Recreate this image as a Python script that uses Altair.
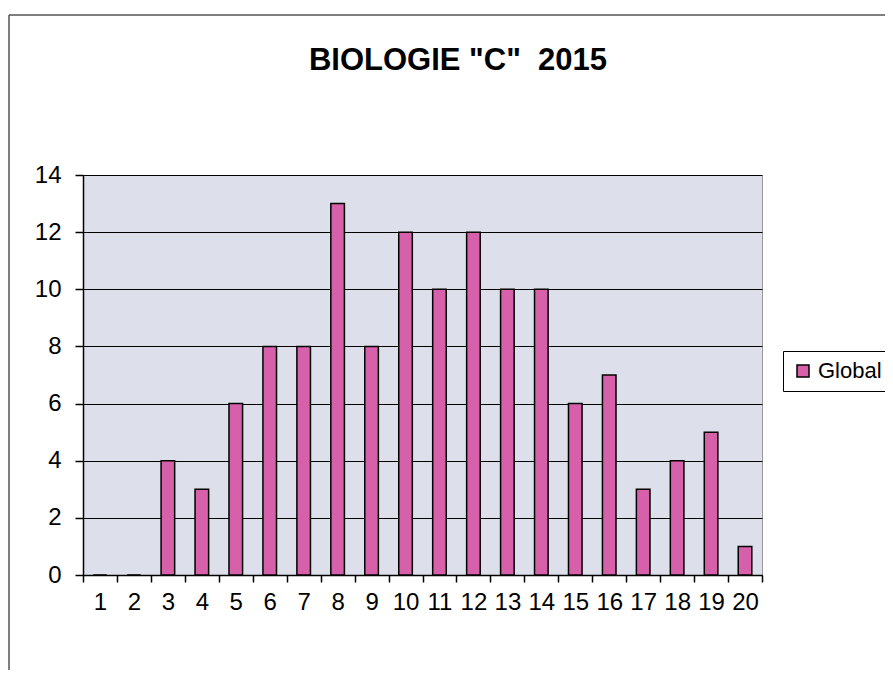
import altair as alt
import pandas as pd

title_text = ['BIOLOGIE "C"\u00a0 2015']
notes = [str(i) for i in range(1, 21)]
counts = [0, 0, 4, 3, 6, 8, 8, 13, 8, 12, 10, 12, 10, 10, 6, 7, 3, 4, 5, 1]
series = ["Global"] * 20

df = pd.DataFrame({"note": notes, "count": counts, "serie": series})

FONT = "Liberation Sans"

bars = alt.Chart(df).mark_bar(
    width=alt.RelativeBandSize(0.4),
    stroke="black",
    strokeWidth=1.5,
).encode(
    x=alt.X("note:O", sort=notes, title=None,
            scale=alt.Scale(paddingInner=0, paddingOuter=0),
            axis=alt.Axis(labelAngle=0, tickBand="extent", grid=False,
                          domainColor="black", domainWidth=1.5,
                          tickColor="black", tickWidth=1.5, tickSize=7,
                          labelFont=FONT, labelFontSize=24, labelColor="black",
                          labelPadding=8)),
    y=alt.Y("count:Q", title=None,
            scale=alt.Scale(domain=[0, 14], nice=False),
            axis=alt.Axis(values=list(range(0, 15, 2)), grid=True,
                          gridColor="black", gridWidth=1.2,
                          domainColor="black", domainWidth=1.5,
                          tickColor="black", tickWidth=1.5, tickSize=8,
                          labelFont=FONT, labelFontSize=24, labelColor="black",
                          labelPadding=14)),
    color=alt.Color("serie:N", title=None,
                    scale=alt.Scale(range=["#d660aa"]),
                    legend=alt.Legend(orient="none", legendX=700, legendY=176,
                                      symbolType="square", symbolSize=144,
                                      symbolStrokeColor="black", symbolStrokeWidth=1.5,
                                      labelFont=FONT, labelFontSize=22, labelColor="black",
                                      strokeColor="black", fillColor="white",
                                      padding=9, labelOffset=4)),
)

title_df = pd.DataFrame({"t": title_text})
title = alt.Chart(title_df).mark_text(
    font=FONT, fontSize=31, fontWeight="bold", color="black",
    align="center", baseline="alphabetic",
).encode(text="t:N", x=alt.value(375), y=alt.value(-105))

border_df = pd.DataFrame({"a": [0]})
top_line = alt.Chart(border_df).mark_rule(color="#555", strokeWidth=1.5).encode(
    x=alt.value(-74), x2=alt.value(900), y=alt.value(-160))
left_line = alt.Chart(border_df).mark_rule(color="#555", strokeWidth=1.5).encode(
    x=alt.value(-74), y=alt.value(-160), y2=alt.value(520))

chart = alt.layer(bars, title, top_line, left_line).properties(
    width=679,
    height=400,
    padding={"left": 75, "top": 167, "right": 123, "bottom": 95},
    autosize=alt.AutoSizeParams(type="none"),
    background="white",
).configure_view(
    fill="#dde0ea", stroke="#999999", strokeWidth=1
)

chart.save("out.html", embed_options={"renderer": "svg", "actions": False})
